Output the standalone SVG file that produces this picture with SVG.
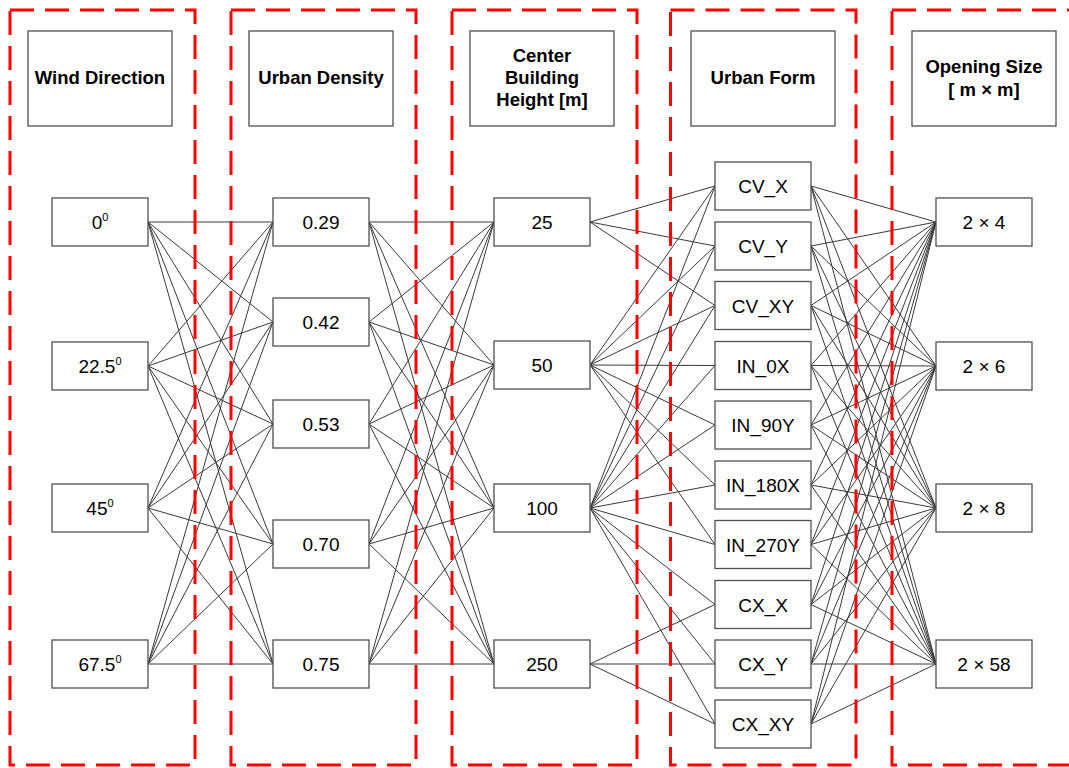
<svg xmlns="http://www.w3.org/2000/svg" width="1069" height="768" viewBox="0 0 1069 768">
<style>
.col{fill:none;stroke:#ff0000;stroke-width:3;stroke-dasharray:24 11}
.box{fill:#ffffff;stroke:#505050;stroke-width:1.3}
.hd{font-family:"Liberation Sans",Arial,sans-serif;font-weight:bold;font-size:18.5px;fill:#000;text-anchor:middle}
.t{font-family:"Liberation Sans",Arial,sans-serif;font-size:19px;fill:#000;text-anchor:middle}
.sup{font-size:11px}
#connectors line{stroke:#3a3a3a;stroke-width:1}
</style>
<rect width="1069" height="768" fill="#ffffff"/>
<g id="connectors">
<!-- Wind -> Density -->
<line x1="148" y1="222" x2="273" y2="222"/><line x1="148" y1="222" x2="273" y2="322"/><line x1="148" y1="222" x2="273" y2="424"/><line x1="148" y1="222" x2="273" y2="544"/><line x1="148" y1="222" x2="273" y2="664"/>
<line x1="148" y1="366" x2="273" y2="222"/><line x1="148" y1="366" x2="273" y2="322"/><line x1="148" y1="366" x2="273" y2="424"/><line x1="148" y1="366" x2="273" y2="544"/><line x1="148" y1="366" x2="273" y2="664"/>
<line x1="148" y1="508" x2="273" y2="222"/><line x1="148" y1="508" x2="273" y2="322"/><line x1="148" y1="508" x2="273" y2="424"/><line x1="148" y1="508" x2="273" y2="544"/><line x1="148" y1="508" x2="273" y2="664"/>
<line x1="148" y1="664" x2="273" y2="222"/><line x1="148" y1="664" x2="273" y2="322"/><line x1="148" y1="664" x2="273" y2="424"/><line x1="148" y1="664" x2="273" y2="544"/><line x1="148" y1="664" x2="273" y2="664"/>
<!-- Density -> Height -->
<line x1="369" y1="222" x2="494" y2="222"/><line x1="369" y1="222" x2="494" y2="365"/><line x1="369" y1="222" x2="494" y2="508"/><line x1="369" y1="222" x2="494" y2="664"/>
<line x1="369" y1="322" x2="494" y2="222"/><line x1="369" y1="322" x2="494" y2="365"/><line x1="369" y1="322" x2="494" y2="508"/><line x1="369" y1="322" x2="494" y2="664"/>
<line x1="369" y1="424" x2="494" y2="222"/><line x1="369" y1="424" x2="494" y2="365"/><line x1="369" y1="424" x2="494" y2="508"/><line x1="369" y1="424" x2="494" y2="664"/>
<line x1="369" y1="544" x2="494" y2="222"/><line x1="369" y1="544" x2="494" y2="365"/><line x1="369" y1="544" x2="494" y2="508"/><line x1="369" y1="544" x2="494" y2="664"/>
<line x1="369" y1="664" x2="494" y2="222"/><line x1="369" y1="664" x2="494" y2="365"/><line x1="369" y1="664" x2="494" y2="508"/><line x1="369" y1="664" x2="494" y2="664"/>
<!-- Height -> Form -->
<line x1="590" y1="222" x2="715" y2="186"/><line x1="590" y1="222" x2="715" y2="246"/><line x1="590" y1="222" x2="715" y2="305.5"/>
<line x1="590" y1="365" x2="715" y2="186"/><line x1="590" y1="365" x2="715" y2="246"/><line x1="590" y1="365" x2="715" y2="305.5"/><line x1="590" y1="365" x2="715" y2="365.5"/><line x1="590" y1="365" x2="715" y2="425"/><line x1="590" y1="365" x2="715" y2="485"/><line x1="590" y1="365" x2="715" y2="544.5"/>
<line x1="590" y1="508" x2="715" y2="186"/><line x1="590" y1="508" x2="715" y2="246"/><line x1="590" y1="508" x2="715" y2="305.5"/><line x1="590" y1="508" x2="715" y2="365.5"/><line x1="590" y1="508" x2="715" y2="425"/><line x1="590" y1="508" x2="715" y2="485"/><line x1="590" y1="508" x2="715" y2="544.5"/><line x1="590" y1="508" x2="715" y2="604.5"/><line x1="590" y1="508" x2="715" y2="664"/><line x1="590" y1="508" x2="715" y2="724"/>
<line x1="590" y1="664" x2="715" y2="604.5"/><line x1="590" y1="664" x2="715" y2="664"/><line x1="590" y1="664" x2="715" y2="724"/>
<!-- Form -> Opening -->
<line x1="811" y1="186" x2="936" y2="222"/><line x1="811" y1="186" x2="936" y2="366"/><line x1="811" y1="186" x2="936" y2="508"/><line x1="811" y1="186" x2="936" y2="664"/>
<line x1="811" y1="246" x2="936" y2="222"/><line x1="811" y1="246" x2="936" y2="366"/><line x1="811" y1="246" x2="936" y2="508"/><line x1="811" y1="246" x2="936" y2="664"/>
<line x1="811" y1="305.5" x2="936" y2="222"/><line x1="811" y1="305.5" x2="936" y2="366"/><line x1="811" y1="305.5" x2="936" y2="508"/><line x1="811" y1="305.5" x2="936" y2="664"/>
<line x1="811" y1="365.5" x2="936" y2="222"/><line x1="811" y1="365.5" x2="936" y2="366"/><line x1="811" y1="365.5" x2="936" y2="508"/><line x1="811" y1="365.5" x2="936" y2="664"/>
<line x1="811" y1="425" x2="936" y2="222"/><line x1="811" y1="425" x2="936" y2="366"/><line x1="811" y1="425" x2="936" y2="508"/><line x1="811" y1="425" x2="936" y2="664"/>
<line x1="811" y1="485" x2="936" y2="222"/><line x1="811" y1="485" x2="936" y2="366"/><line x1="811" y1="485" x2="936" y2="508"/><line x1="811" y1="485" x2="936" y2="664"/>
<line x1="811" y1="544.5" x2="936" y2="222"/><line x1="811" y1="544.5" x2="936" y2="366"/><line x1="811" y1="544.5" x2="936" y2="508"/><line x1="811" y1="544.5" x2="936" y2="664"/>
<line x1="811" y1="604.5" x2="936" y2="222"/><line x1="811" y1="604.5" x2="936" y2="366"/><line x1="811" y1="604.5" x2="936" y2="508"/><line x1="811" y1="604.5" x2="936" y2="664"/>
<line x1="811" y1="664" x2="936" y2="222"/><line x1="811" y1="664" x2="936" y2="366"/><line x1="811" y1="664" x2="936" y2="508"/><line x1="811" y1="664" x2="936" y2="664"/>
<line x1="811" y1="724" x2="936" y2="222"/><line x1="811" y1="724" x2="936" y2="366"/><line x1="811" y1="724" x2="936" y2="508"/><line x1="811" y1="724" x2="936" y2="664"/>
</g>
<g id="columns">
<rect class="col" x="10" y="10" width="185" height="755"/>
<rect class="col" x="231" y="10" width="185" height="755"/>
<rect class="col" x="452" y="10" width="185" height="755"/>
<rect class="col" x="670.5" y="10" width="185.5" height="755"/>
<rect class="col" x="892" y="10" width="185" height="755"/>
</g>
<g id="hdr-wind"><rect class="box" x="28" y="31" width="144" height="95"/><text class="hd" x="100" y="84">Wind Direction</text></g>
<g id="hdr-density"><rect class="box" x="249" y="31" width="144" height="95"/><text class="hd" x="321" y="84">Urban Density</text></g>
<g id="hdr-height"><rect class="box" x="470" y="31" width="144" height="95"/><text class="hd" x="542" y="62">Center</text><text class="hd" x="542" y="84">Building</text><text class="hd" x="542" y="106">Height [m]</text></g>
<g id="hdr-form"><rect class="box" x="691" y="31" width="144" height="95"/><text class="hd" x="763" y="84">Urban Form</text></g>
<g id="hdr-opening"><rect class="box" x="912" y="31" width="144" height="95"/><text class="hd" x="984" y="73">Opening Size</text><text class="hd" x="984" y="96">[ m × m]</text></g>
<g id="w0"><rect class="box" x="52" y="198" width="96" height="48"/><text class="t" x="100" y="229">0<tspan class="sup" dy="-8">0</tspan></text></g>
<g id="w22"><rect class="box" x="52" y="342" width="96" height="48"/><text class="t" x="100" y="373">22.5<tspan class="sup" dy="-8">0</tspan></text></g>
<g id="w45"><rect class="box" x="52" y="484" width="96" height="48"/><text class="t" x="100" y="515">45<tspan class="sup" dy="-8">0</tspan></text></g>
<g id="w67"><rect class="box" x="52" y="640" width="96" height="48"/><text class="t" x="100" y="671">67.5<tspan class="sup" dy="-8">0</tspan></text></g>
<g id="d029"><rect class="box" x="273" y="198" width="96" height="48"/><text class="t" x="321" y="229">0.29</text></g>
<g id="d042"><rect class="box" x="273" y="298" width="96" height="48"/><text class="t" x="321" y="329">0.42</text></g>
<g id="d053"><rect class="box" x="273" y="400" width="96" height="48"/><text class="t" x="321" y="431">0.53</text></g>
<g id="d070"><rect class="box" x="273" y="520" width="96" height="48"/><text class="t" x="321" y="551">0.70</text></g>
<g id="d075"><rect class="box" x="273" y="640" width="96" height="48"/><text class="t" x="321" y="671">0.75</text></g>
<g id="h25"><rect class="box" x="494" y="198" width="96" height="48"/><text class="t" x="542" y="229">25</text></g>
<g id="h50"><rect class="box" x="494" y="341" width="96" height="48"/><text class="t" x="542" y="372">50</text></g>
<g id="h100"><rect class="box" x="494" y="484" width="96" height="48"/><text class="t" x="542" y="515">100</text></g>
<g id="h250"><rect class="box" x="494" y="640" width="96" height="48"/><text class="t" x="542" y="671">250</text></g>
<g id="f-cvx"><rect class="box" x="715" y="162" width="96" height="48"/><text class="t" x="763" y="193">CV_X</text></g>
<g id="f-cvy"><rect class="box" x="715" y="222" width="96" height="48"/><text class="t" x="763" y="253">CV_Y</text></g>
<g id="f-cvxy"><rect class="box" x="715" y="281.5" width="96" height="48"/><text class="t" x="763" y="312.5">CV_XY</text></g>
<g id="f-in0x"><rect class="box" x="715" y="341.5" width="96" height="48"/><text class="t" x="763" y="372.5">IN_0X</text></g>
<g id="f-in90y"><rect class="box" x="715" y="401" width="96" height="48"/><text class="t" x="763" y="432">IN_90Y</text></g>
<g id="f-in180x"><rect class="box" x="715" y="461" width="96" height="48"/><text class="t" x="763" y="492">IN_180X</text></g>
<g id="f-in270y"><rect class="box" x="715" y="520.5" width="96" height="48"/><text class="t" x="763" y="551.5">IN_270Y</text></g>
<g id="f-cxx"><rect class="box" x="715" y="580.5" width="96" height="48"/><text class="t" x="763" y="611.5">CX_X</text></g>
<g id="f-cxy"><rect class="box" x="715" y="640" width="96" height="48"/><text class="t" x="763" y="671">CX_Y</text></g>
<g id="f-cxxy"><rect class="box" x="715" y="700" width="96" height="48"/><text class="t" x="763" y="731">CX_XY</text></g>
<g id="o24"><rect class="box" x="936" y="198" width="96" height="48"/><text class="t" x="984" y="229">2 × 4</text></g>
<g id="o26"><rect class="box" x="936" y="342" width="96" height="48"/><text class="t" x="984" y="373">2 × 6</text></g>
<g id="o28"><rect class="box" x="936" y="484" width="96" height="48"/><text class="t" x="984" y="515">2 × 8</text></g>
<g id="o258"><rect class="box" x="936" y="640" width="96" height="48"/><text class="t" x="984" y="671">2 × 58</text></g>
</svg>
